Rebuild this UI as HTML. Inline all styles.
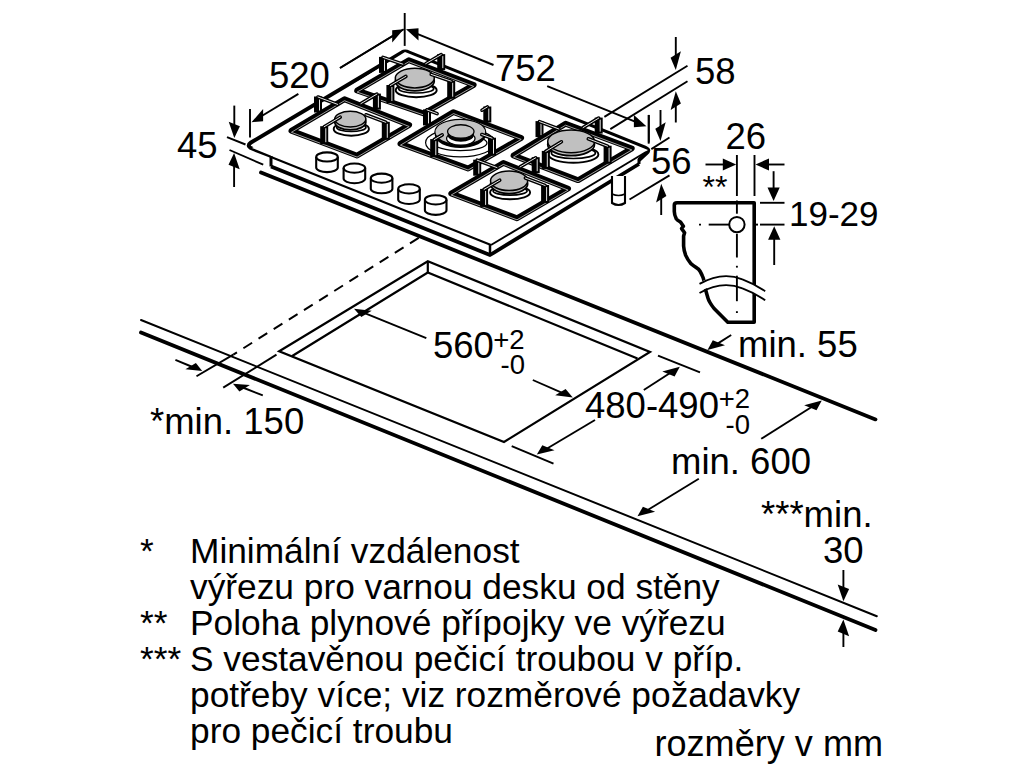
<!DOCTYPE html>
<html><head><meta charset="utf-8"><style>
html,body{margin:0;padding:0;background:#fff;width:1024px;height:768px;overflow:hidden}
svg{display:block}
text{font-family:"Liberation Sans",sans-serif;fill:#000}
</style></head><body>
<svg width="1024" height="768" viewBox="0 0 1024 768">
<g stroke="#000" fill="none">
<line x1="141.0" y1="320.0" x2="876.8" y2="616.2" stroke-width="2.0" stroke-linecap="round" />
<line x1="141.0" y1="332.5" x2="875.5" y2="630.0" stroke-width="3.8" stroke-linecap="round" />
<line x1="261.0" y1="172.5" x2="875.5" y2="419.4" stroke-width="3.8" stroke-linecap="round" />
<polygon points="279.2,351.2 427.8,261.2 650.0,352.0 504.0,442.0" fill="none" stroke-width="2.2" stroke-linejoin="miter"/>
<polyline points="291.8,356.3 427.8,272.5 637.5,358.5" fill="none" stroke-width="2.2" />
<line x1="427.8" y1="261.2" x2="427.8" y2="272.5" stroke-width="2.2" stroke-linecap="butt" />
<line x1="418.7" y1="237.8" x2="233.3" y2="354.6" stroke-width="2.0" stroke-linecap="butt" stroke-dasharray="10.3 7.6"/>
<line x1="233.3" y1="354.6" x2="196.5" y2="376.2" stroke-width="1.9" stroke-linecap="butt" />
<line x1="276.5" y1="354.6" x2="223.2" y2="387.6" stroke-width="1.9" stroke-linecap="butt" />
<line x1="175.4" y1="359.8" x2="192.5" y2="367.0" stroke-width="1.9" stroke-linecap="butt" />
<polygon points="202.2,371.0 195.9,363.0 185.4,369.3" fill="#000" stroke="none"/>
<line x1="262.8" y1="395.4" x2="242.8" y2="387.5" stroke-width="1.9" stroke-linecap="butt" />
<polygon points="233.0,383.7 249.9,385.1 239.4,391.4" fill="#000" stroke="none"/>
<path d="M271,156 L252,148.5 Q246,146 251,142.5 L402,52.5 Q405,50.5 409,52.5 L645,147.5 Q651,150 646,153.5 L639,160" fill="#fff" stroke-width="4.0" stroke-linejoin="round"/>
<polygon points="252.0,148.0 405.0,52.0 648.0,150.0 491.0,245.0" fill="#fff" stroke-width="0" stroke="none"/>
<line x1="271.0" y1="157.0" x2="491.0" y2="245.0" stroke-width="1.9" stroke-linecap="butt" />
<line x1="491.0" y1="245.0" x2="646.0" y2="152.0" stroke-width="1.9" stroke-linecap="butt" />
<line x1="271.0" y1="156.0" x2="271.0" y2="166.5" stroke-width="3" stroke-linecap="butt" />
<line x1="490.0" y1="245.0" x2="490.0" y2="255.0" stroke-width="2.5" stroke-linecap="butt" />
<line x1="639.0" y1="159.0" x2="639.0" y2="164.0" stroke-width="3" stroke-linecap="butt" />
<polyline points="271,166.5 490,255 639,164" fill="none" stroke-width="3.8" stroke-linejoin="round"/>
<polygon points="357.1,90.6 408.8,60.2 473.7,84.9 423.7,113.4" fill="none" stroke-width="5.8" stroke-linejoin="round"/>
<polygon points="357.1,92.1 408.8,61.7 473.7,86.4 423.7,114.9" fill="none" stroke-width="0.9" stroke="#b0b0b0" stroke-linejoin="round"/>
<ellipse cx="416.2" cy="90.2" rx="20.5" ry="7" fill="#fff" stroke-width="1.9"/>
<ellipse cx="416.2" cy="88.7" rx="17.5" ry="4.3" fill="#fff" stroke-width="1.7"/>
<ellipse cx="414.8" cy="81.1" rx="19.5" ry="9.8" fill="#c0c0c0" stroke-width="1.7"/>
<ellipse cx="414.8" cy="78.1" rx="19.5" ry="9.8" fill="#c0c0c0" stroke-width="1.5"/>
<rect x="379.0" y="56.9" width="8" height="16" fill="#000" stroke="none"/>
<line x1="384.5" y1="58.9" x2="384.5" y2="70.9" stroke-width="0.9" stroke-linecap="butt" stroke="#fff"/>
<line x1="383.0" y1="57.4" x2="402.9" y2="64.2" stroke-width="3.6" stroke-linecap="round" />
<line x1="383.0" y1="57.4" x2="402.9" y2="64.2" stroke-width="0.9" stroke-linecap="round" stroke="#fff"/>
<rect x="437.2" y="54.1" width="8" height="16" fill="#000" stroke="none"/>
<line x1="442.8" y1="56.1" x2="442.8" y2="68.1" stroke-width="0.9" stroke-linecap="butt" stroke="#fff"/>
<line x1="441.2" y1="54.6" x2="425.7" y2="63.7" stroke-width="3.6" stroke-linecap="round" />
<line x1="441.2" y1="54.6" x2="425.7" y2="63.7" stroke-width="0.9" stroke-linecap="round" stroke="#fff"/>
<rect x="386.4" y="85.0" width="8" height="18" fill="#000" stroke="none"/>
<line x1="391.9" y1="87.0" x2="391.9" y2="101.0" stroke-width="0.9" stroke-linecap="butt" stroke="#fff"/>
<line x1="390.4" y1="85.5" x2="405.9" y2="76.4" stroke-width="3.6" stroke-linecap="round" />
<line x1="390.4" y1="85.5" x2="405.9" y2="76.4" stroke-width="0.9" stroke-linecap="round" stroke="#fff"/>
<rect x="447.2" y="80.7" width="8" height="18" fill="#000" stroke="none"/>
<line x1="452.7" y1="82.7" x2="452.7" y2="96.7" stroke-width="0.9" stroke-linecap="butt" stroke="#fff"/>
<line x1="451.2" y1="81.2" x2="431.2" y2="74.4" stroke-width="3.6" stroke-linecap="round" />
<line x1="451.2" y1="81.2" x2="431.2" y2="74.4" stroke-width="0.9" stroke-linecap="round" stroke="#fff"/>
<polygon points="291.4,130.8 344.5,99.2 409.2,125.0 357.1,155.6" fill="none" stroke-width="5.8" stroke-linejoin="round"/>
<polygon points="291.4,132.3 344.5,100.7 409.2,126.5 357.1,157.1" fill="none" stroke-width="0.9" stroke="#b0b0b0" stroke-linejoin="round"/>
<ellipse cx="351.3" cy="128.9" rx="17.6" ry="6.8" fill="#fff" stroke-width="1.9"/>
<ellipse cx="351.3" cy="127.4" rx="14.600000000000001" ry="4.1" fill="#fff" stroke-width="1.7"/>
<ellipse cx="350.3" cy="122.1" rx="15.6" ry="7.8" fill="#c0c0c0" stroke-width="1.7"/>
<ellipse cx="350.3" cy="119.1" rx="15.6" ry="7.8" fill="#c0c0c0" stroke-width="1.5"/>
<rect x="314.0" y="96.5" width="8" height="16" fill="#000" stroke="none"/>
<line x1="319.5" y1="98.5" x2="319.5" y2="110.5" stroke-width="0.9" stroke-linecap="butt" stroke="#fff"/>
<line x1="318.0" y1="97.0" x2="337.7" y2="104.4" stroke-width="3.6" stroke-linecap="round" />
<line x1="318.0" y1="97.0" x2="337.7" y2="104.4" stroke-width="0.9" stroke-linecap="round" stroke="#fff"/>
<rect x="372.9" y="93.6" width="8" height="16" fill="#000" stroke="none"/>
<line x1="378.4" y1="95.6" x2="378.4" y2="107.6" stroke-width="0.9" stroke-linecap="butt" stroke="#fff"/>
<line x1="376.9" y1="94.1" x2="360.9" y2="103.6" stroke-width="3.6" stroke-linecap="round" />
<line x1="376.9" y1="94.1" x2="360.9" y2="103.6" stroke-width="0.9" stroke-linecap="round" stroke="#fff"/>
<rect x="320.2" y="126.2" width="8" height="18" fill="#000" stroke="none"/>
<line x1="325.8" y1="128.2" x2="325.8" y2="142.2" stroke-width="0.9" stroke-linecap="butt" stroke="#fff"/>
<line x1="324.2" y1="126.7" x2="340.2" y2="117.2" stroke-width="3.6" stroke-linecap="round" />
<line x1="324.2" y1="126.7" x2="340.2" y2="117.2" stroke-width="0.9" stroke-linecap="round" stroke="#fff"/>
<rect x="381.8" y="121.8" width="8" height="18" fill="#000" stroke="none"/>
<line x1="387.3" y1="123.8" x2="387.3" y2="137.8" stroke-width="0.9" stroke-linecap="butt" stroke="#fff"/>
<line x1="385.8" y1="122.3" x2="366.0" y2="114.8" stroke-width="3.6" stroke-linecap="round" />
<line x1="385.8" y1="122.3" x2="366.0" y2="114.8" stroke-width="0.9" stroke-linecap="round" stroke="#fff"/>
<polygon points="400.4,143.7 453.5,112.1 521.2,137.9 468.1,168.5" fill="none" stroke-width="5.8" stroke-linejoin="round"/>
<polygon points="400.4,145.2 453.5,113.6 521.2,139.4 468.1,170.0" fill="none" stroke-width="0.9" stroke="#b0b0b0" stroke-linejoin="round"/>
<ellipse cx="460.3" cy="142.7" rx="34.7" ry="14.2" fill="#fff" stroke-width="1.2"/>
<ellipse cx="460.3" cy="143.0" rx="26.700000000000003" ry="7.6" fill="#fff" stroke-width="1.3"/>
<ellipse cx="460.3" cy="135.2" rx="25.4" ry="12.7" fill="#000" stroke="none"/>
<ellipse cx="460.3" cy="132" rx="25.4" ry="12.7" fill="#c4c4c4" stroke-width="1.2"/>
<ellipse cx="460.8" cy="138.5" rx="14.208" ry="6.731" fill="#fff" stroke-width="1.3"/>
<ellipse cx="460.8" cy="135" rx="13.208" ry="6.731" fill="#000" stroke="none"/>
<ellipse cx="460.8" cy="131.5" rx="13.208" ry="6.731" fill="#c4c4c4" stroke-width="1.3"/>
<rect x="423.0" y="109.4" width="8" height="16" fill="#000" stroke="none"/>
<line x1="428.5" y1="111.4" x2="428.5" y2="123.4" stroke-width="0.9" stroke-linecap="butt" stroke="#fff"/>
<line x1="427.0" y1="109.9" x2="437.1" y2="113.6" stroke-width="3.6" stroke-linecap="round" />
<line x1="427.0" y1="109.9" x2="437.1" y2="113.6" stroke-width="0.9" stroke-linecap="round" stroke="#fff"/>
<rect x="483.3" y="106.5" width="8" height="16" fill="#000" stroke="none"/>
<line x1="488.8" y1="108.5" x2="488.8" y2="120.5" stroke-width="0.9" stroke-linecap="butt" stroke="#fff"/>
<line x1="487.3" y1="107.0" x2="482.0" y2="110.2" stroke-width="3.6" stroke-linecap="round" />
<line x1="487.3" y1="107.0" x2="482.0" y2="110.2" stroke-width="0.9" stroke-linecap="round" stroke="#fff"/>
<rect x="430.2" y="139.1" width="8" height="18" fill="#000" stroke="none"/>
<line x1="435.8" y1="141.1" x2="435.8" y2="155.1" stroke-width="0.9" stroke-linecap="butt" stroke="#fff"/>
<line x1="434.2" y1="139.6" x2="442.2" y2="134.9" stroke-width="3.6" stroke-linecap="round" />
<line x1="434.2" y1="139.6" x2="442.2" y2="134.9" stroke-width="0.9" stroke-linecap="round" stroke="#fff"/>
<rect x="488.0" y="137.7" width="8" height="18" fill="#000" stroke="none"/>
<line x1="493.5" y1="139.7" x2="493.5" y2="153.7" stroke-width="0.9" stroke-linecap="butt" stroke="#fff"/>
<line x1="492.0" y1="138.2" x2="481.8" y2="134.5" stroke-width="3.6" stroke-linecap="round" />
<line x1="492.0" y1="138.2" x2="481.8" y2="134.5" stroke-width="0.9" stroke-linecap="round" stroke="#fff"/>
<polygon points="513.5,155.5 565.6,123.7 631.8,148.4 578.1,180.2" fill="none" stroke-width="5.8" stroke-linejoin="round"/>
<polygon points="513.5,157.0 565.6,125.2 631.8,149.9 578.1,181.7" fill="none" stroke-width="0.9" stroke="#b0b0b0" stroke-linejoin="round"/>
<ellipse cx="573.4" cy="154.5" rx="25" ry="8.2" fill="#fff" stroke-width="1.9"/>
<ellipse cx="573.4" cy="153.0" rx="22" ry="5.499999999999999" fill="#fff" stroke-width="1.7"/>
<ellipse cx="571.1" cy="144.4" rx="23.4" ry="11.3" fill="#c0c0c0" stroke-width="1.7"/>
<ellipse cx="571.1" cy="141.4" rx="23.4" ry="11.3" fill="#c0c0c0" stroke-width="1.5"/>
<rect x="535.5" y="121.1" width="8" height="16" fill="#000" stroke="none"/>
<line x1="541.0" y1="123.1" x2="541.0" y2="135.1" stroke-width="0.9" stroke-linecap="butt" stroke="#fff"/>
<line x1="539.5" y1="121.6" x2="558.9" y2="129.0" stroke-width="3.6" stroke-linecap="round" />
<line x1="539.5" y1="121.6" x2="558.9" y2="129.0" stroke-width="0.9" stroke-linecap="round" stroke="#fff"/>
<rect x="594.7" y="117.6" width="8" height="16" fill="#000" stroke="none"/>
<line x1="600.2" y1="119.6" x2="600.2" y2="131.6" stroke-width="0.9" stroke-linecap="butt" stroke="#fff"/>
<line x1="598.7" y1="118.1" x2="583.1" y2="127.6" stroke-width="3.6" stroke-linecap="round" />
<line x1="598.7" y1="118.1" x2="583.1" y2="127.6" stroke-width="0.9" stroke-linecap="round" stroke="#fff"/>
<rect x="541.8" y="150.9" width="8" height="18" fill="#000" stroke="none"/>
<line x1="547.3" y1="152.9" x2="547.3" y2="166.9" stroke-width="0.9" stroke-linecap="butt" stroke="#fff"/>
<line x1="545.8" y1="151.4" x2="561.4" y2="141.8" stroke-width="3.6" stroke-linecap="round" />
<line x1="545.8" y1="151.4" x2="561.4" y2="141.8" stroke-width="0.9" stroke-linecap="round" stroke="#fff"/>
<rect x="603.6" y="145.7" width="8" height="18" fill="#000" stroke="none"/>
<line x1="609.1" y1="147.7" x2="609.1" y2="161.7" stroke-width="0.9" stroke-linecap="butt" stroke="#fff"/>
<line x1="607.6" y1="146.2" x2="588.3" y2="138.8" stroke-width="3.6" stroke-linecap="round" />
<line x1="607.6" y1="146.2" x2="588.3" y2="138.8" stroke-width="0.9" stroke-linecap="round" stroke="#fff"/>
<polygon points="451.2,193.5 503.3,162.9 568.1,188.6 517.0,218.3" fill="none" stroke-width="5.8" stroke-linejoin="round"/>
<polygon points="451.2,195.0 503.3,164.4 568.1,190.1 517.0,219.8" fill="none" stroke-width="0.9" stroke="#b0b0b0" stroke-linejoin="round"/>
<ellipse cx="510.1" cy="192.5" rx="20" ry="6.8" fill="#fff" stroke-width="1.9"/>
<ellipse cx="510.1" cy="191.0" rx="17" ry="4.1" fill="#fff" stroke-width="1.7"/>
<ellipse cx="509.1" cy="183.8" rx="18.6" ry="9.8" fill="#c0c0c0" stroke-width="1.7"/>
<ellipse cx="509.1" cy="180.8" rx="18.6" ry="9.8" fill="#c0c0c0" stroke-width="1.5"/>
<rect x="473.2" y="159.7" width="8" height="16" fill="#000" stroke="none"/>
<line x1="478.8" y1="161.7" x2="478.8" y2="173.7" stroke-width="0.9" stroke-linecap="butt" stroke="#fff"/>
<line x1="477.2" y1="160.2" x2="497.0" y2="167.6" stroke-width="3.6" stroke-linecap="round" />
<line x1="477.2" y1="160.2" x2="497.0" y2="167.6" stroke-width="0.9" stroke-linecap="round" stroke="#fff"/>
<rect x="531.7" y="157.2" width="8" height="16" fill="#000" stroke="none"/>
<line x1="537.2" y1="159.2" x2="537.2" y2="171.2" stroke-width="0.9" stroke-linecap="butt" stroke="#fff"/>
<line x1="535.7" y1="157.8" x2="520.1" y2="166.9" stroke-width="3.6" stroke-linecap="round" />
<line x1="535.7" y1="157.8" x2="520.1" y2="166.9" stroke-width="0.9" stroke-linecap="round" stroke="#fff"/>
<rect x="480.1" y="188.9" width="8" height="18" fill="#000" stroke="none"/>
<line x1="485.6" y1="190.9" x2="485.6" y2="204.9" stroke-width="0.9" stroke-linecap="butt" stroke="#fff"/>
<line x1="484.1" y1="189.4" x2="499.7" y2="180.2" stroke-width="3.6" stroke-linecap="round" />
<line x1="484.1" y1="189.4" x2="499.7" y2="180.2" stroke-width="0.9" stroke-linecap="round" stroke="#fff"/>
<rect x="541.1" y="185.0" width="8" height="18" fill="#000" stroke="none"/>
<line x1="546.6" y1="187.0" x2="546.6" y2="201.0" stroke-width="0.9" stroke-linecap="butt" stroke="#fff"/>
<line x1="545.1" y1="185.5" x2="525.4" y2="178.0" stroke-width="3.6" stroke-linecap="round" />
<line x1="545.1" y1="185.5" x2="525.4" y2="178.0" stroke-width="0.9" stroke-linecap="round" stroke="#fff"/>
<path d="M316.2,157 L316.2,167.5 A10.8,4.6 0 0 0 337.8,167.5 L337.8,157 A10.8,4.6 0 0 0 316.2,157 Z" fill="#fff" stroke-width="2.1"/>
<path d="M316.2,157 A10.8,4.6 0 0 0 337.8,157" fill="none" stroke-width="2.0"/>
<path d="M343.59999999999997,168.1 L343.59999999999997,178.6 A10.8,4.6 0 0 0 365.2,178.6 L365.2,168.1 A10.8,4.6 0 0 0 343.59999999999997,168.1 Z" fill="#fff" stroke-width="2.1"/>
<path d="M343.59999999999997,168.1 A10.8,4.6 0 0 0 365.2,168.1" fill="none" stroke-width="2.0"/>
<path d="M370.8,178.2 L370.8,188.7 A10.8,4.6 0 0 0 392.40000000000003,188.7 L392.40000000000003,178.2 A10.8,4.6 0 0 0 370.8,178.2 Z" fill="#fff" stroke-width="2.1"/>
<path d="M370.8,178.2 A10.8,4.6 0 0 0 392.40000000000003,178.2" fill="none" stroke-width="2.0"/>
<path d="M398.2,188.9 L398.2,199.4 A10.8,4.6 0 0 0 419.8,199.4 L419.8,188.9 A10.8,4.6 0 0 0 398.2,188.9 Z" fill="#fff" stroke-width="2.1"/>
<path d="M398.2,188.9 A10.8,4.6 0 0 0 419.8,188.9" fill="none" stroke-width="2.0"/>
<path d="M424.9,199.8 L424.9,210.3 A10.8,4.6 0 0 0 446.5,210.3 L446.5,199.8 A10.8,4.6 0 0 0 424.9,199.8 Z" fill="#fff" stroke-width="2.1"/>
<path d="M424.9,199.8 A10.8,4.6 0 0 0 446.5,199.8" fill="none" stroke-width="2.0"/>
<path d="M612,176 L612,203 Q618.5,207 625,203 L625,176" fill="#fff" stroke-width="2.1"/>
<path d="M612,194 Q618.5,197 625,194" fill="none" stroke-width="1.6"/>
<line x1="250.0" y1="109.0" x2="250.0" y2="137.4" stroke-width="1.9" stroke-linecap="butt" />
<line x1="298.4" y1="93.9" x2="261.3" y2="116.3" stroke-width="1.9" stroke-linecap="butt" />
<polygon points="251.5,122.2 263.1,121.3 263.1,109.1" fill="#000" stroke="none"/>
<line x1="340.0" y1="68.0" x2="403.7" y2="29.3" stroke-width="1.9" stroke-linecap="butt" />
<line x1="340.0" y1="68.0" x2="393.9" y2="35.3" stroke-width="1.9" stroke-linecap="butt" />
<polygon points="403.7,29.3 392.2,42.4 392.2,30.2" fill="#000" stroke="none"/>
<line x1="404.7" y1="13.0" x2="404.7" y2="45.9" stroke-width="1.9" stroke-linecap="butt" />
<line x1="493.5" y1="65.0" x2="416.6" y2="33.6" stroke-width="1.9" stroke-linecap="butt" />
<polygon points="406.0,29.3 418.5,40.5 418.5,28.3" fill="#000" stroke="none"/>
<line x1="547.2" y1="86.2" x2="635.7" y2="121.9" stroke-width="1.9" stroke-linecap="butt" />
<polygon points="646.4,126.2 633.9,127.3 633.9,115.1" fill="#000" stroke="none"/>
<line x1="648.7" y1="114.9" x2="648.7" y2="143.7" stroke-width="1.9" stroke-linecap="butt" />
<line x1="234.3" y1="105.6" x2="234.3" y2="126.0" stroke-width="1.9" stroke-linecap="butt" />
<polygon points="234.3,138.0 239.9,126.3 228.7,121.7" fill="#000" stroke="none"/>
<line x1="234.1" y1="187.0" x2="234.1" y2="165.0" stroke-width="1.9" stroke-linecap="butt" />
<polygon points="234.1,153.0 239.7,169.3 228.5,164.7" fill="#000" stroke="none"/>
<line x1="227.0" y1="137.2" x2="245.5" y2="144.5" stroke-width="1.9" stroke-linecap="butt" />
<line x1="229.5" y1="150.0" x2="263.2" y2="164.7" stroke-width="1.9" stroke-linecap="butt" />
<line x1="604.4" y1="116.9" x2="687.5" y2="65.8" stroke-width="1.9" stroke-linecap="butt" />
<line x1="610.3" y1="129.1" x2="687.5" y2="81.2" stroke-width="1.9" stroke-linecap="butt" />
<line x1="675.8" y1="37.0" x2="675.8" y2="56.5" stroke-width="1.9" stroke-linecap="butt" />
<polygon points="675.8,70.0 680.9,51.3 670.6,57.7" fill="#000" stroke="none"/>
<line x1="675.8" y1="122.5" x2="675.8" y2="104.8" stroke-width="1.9" stroke-linecap="butt" />
<polygon points="675.8,91.2 680.9,103.5 670.6,110.0" fill="#000" stroke="none"/>
<line x1="660.5" y1="110.0" x2="660.5" y2="127.5" stroke-width="1.9" stroke-linecap="butt" />
<polygon points="660.5,141.0 665.7,122.3 655.3,128.7" fill="#000" stroke="none"/>
<line x1="651.3" y1="149.1" x2="669.5" y2="137.5" stroke-width="1.9" stroke-linecap="butt" />
<line x1="629.5" y1="199.5" x2="669.5" y2="175.4" stroke-width="1.9" stroke-linecap="butt" />
<line x1="661.2" y1="215.0" x2="661.2" y2="197.2" stroke-width="1.9" stroke-linecap="butt" />
<polygon points="661.2,183.8 666.4,196.0 656.1,202.5" fill="#000" stroke="none"/>
<line x1="648.8" y1="115.0" x2="648.8" y2="142.5" stroke-width="1.9" stroke-linecap="butt" />
<path d="M677,202.8 L754.2,202.8 L754.2,322.2 L727.8,322.2 L714.1,308.5 Q709,302 707.8,297.6 Q705.5,290 705,286.6 Q704,279 702.4,276 Q700,270.5 698.2,268.9 Q693,265.5 690.9,263.7 Q687.5,259.5 685.7,255.4 Q683.8,250 683.6,246 L683.6,236 L684.6,232.8 L681.6,228.6 L683.4,226.2 L680.5,222 Q677,220 676.3,218.9 Q674.3,215 674.3,211.6 L674.3,205 Q674.3,202.8 677,202.8 Z" fill="#fff" stroke-width="3.6" stroke-linejoin="round"/>
<path d="M697,283.9 Q722,270 742.4,279.3 Q755,284 767,292 L767,301.5 Q755,293 742.4,288.4 Q722,279 697,293 Z" fill="#fff" stroke="none"/>
<path d="M699.5,283.9 Q722,271 742.4,279.3 Q755,284 765.2,291.2" fill="none" stroke-width="1.8"/>
<path d="M699.5,293 Q722,280 742.4,288.4 Q755,293 765.2,300.3" fill="none" stroke-width="1.8"/>
<circle cx="736.9" cy="224.6" r="7.7" fill="none" stroke-width="2"/>
<line x1="699.0" y1="224.6" x2="701.0" y2="224.6" stroke-width="1.9" stroke-linecap="butt" />
<line x1="708.7" y1="224.6" x2="729.0" y2="224.6" stroke-width="1.9" stroke-linecap="butt" />
<line x1="755.0" y1="224.6" x2="758.0" y2="224.6" stroke-width="1.9" stroke-linecap="butt" />
<line x1="736.9" y1="155.0" x2="736.9" y2="196.0" stroke-width="1.9" stroke-linecap="butt" />
<line x1="736.9" y1="200.5" x2="736.9" y2="213.7" stroke-width="1.9" stroke-linecap="butt" />
<line x1="736.9" y1="233.8" x2="736.9" y2="257.5" stroke-width="1.9" stroke-linecap="butt" />
<line x1="736.9" y1="265.8" x2="736.9" y2="267.6" stroke-width="1.9" stroke-linecap="butt" />
<line x1="736.9" y1="275.7" x2="736.9" y2="301.2" stroke-width="1.9" stroke-linecap="butt" />
<line x1="736.9" y1="311.2" x2="736.9" y2="313.0" stroke-width="1.9" stroke-linecap="butt" />
<line x1="754.5" y1="155.0" x2="754.5" y2="196.0" stroke-width="1.9" stroke-linecap="butt" />
<line x1="705.5" y1="164.5" x2="724.8" y2="164.5" stroke-width="1.9" stroke-linecap="butt" />
<polygon points="736.2,164.5 722.8,170.6 722.8,158.4" fill="#000" stroke="none"/>
<line x1="784.5" y1="164.5" x2="767.0" y2="164.5" stroke-width="1.9" stroke-linecap="butt" />
<polygon points="755.5,164.5 769.0,158.4 769.0,170.6" fill="#000" stroke="none"/>
<line x1="760.0" y1="202.8" x2="784.5" y2="202.8" stroke-width="1.9" stroke-linecap="butt" />
<line x1="760.0" y1="224.6" x2="784.5" y2="224.6" stroke-width="1.9" stroke-linecap="butt" />
<line x1="773.6" y1="171.2" x2="773.6" y2="189.5" stroke-width="1.9" stroke-linecap="butt" />
<polygon points="773.6,201.0 767.5,187.5 779.7,187.5" fill="#000" stroke="none"/>
<line x1="774.2" y1="265.0" x2="774.2" y2="237.8" stroke-width="1.9" stroke-linecap="butt" />
<polygon points="774.2,226.2 780.4,239.8 768.1,239.8" fill="#000" stroke="none"/>
<line x1="731.2" y1="335.0" x2="717.2" y2="343.9" stroke-width="1.9" stroke-linecap="butt" />
<polygon points="707.5,350.0 725.0,345.2 712.8,340.3" fill="#000" stroke="none"/>
<line x1="426.3" y1="338.1" x2="364.7" y2="313.1" stroke-width="1.9" stroke-linecap="butt" />
<polygon points="354.0,308.8 371.7,310.7 361.3,317.0" fill="#000" stroke="none"/>
<line x1="532.8" y1="380.0" x2="562.2" y2="392.9" stroke-width="1.9" stroke-linecap="butt" />
<polygon points="572.8,397.5 565.6,388.9 555.2,395.3" fill="#000" stroke="none"/>
<line x1="643.8" y1="390.0" x2="670.1" y2="373.0" stroke-width="1.9" stroke-linecap="butt" />
<polygon points="679.8,366.8 674.6,376.6 662.3,371.6" fill="#000" stroke="none"/>
<line x1="658.0" y1="355.6" x2="700.0" y2="372.4" stroke-width="1.9" stroke-linecap="butt" />
<line x1="595.0" y1="420.0" x2="546.7" y2="448.7" stroke-width="1.9" stroke-linecap="butt" />
<polygon points="536.8,454.6 554.5,450.2 542.3,445.2" fill="#000" stroke="none"/>
<line x1="511.7" y1="446.2" x2="553.5" y2="463.6" stroke-width="1.9" stroke-linecap="butt" />
<line x1="698.8" y1="478.8" x2="647.3" y2="510.2" stroke-width="1.9" stroke-linecap="butt" />
<polygon points="637.5,516.2 655.1,511.7 642.9,506.7" fill="#000" stroke="none"/>
<line x1="761.2" y1="438.8" x2="812.0" y2="406.7" stroke-width="1.9" stroke-linecap="butt" />
<polygon points="821.8,400.6 816.5,410.3 804.2,405.3" fill="#000" stroke="none"/>
<line x1="843.4" y1="570.0" x2="843.4" y2="588.8" stroke-width="1.9" stroke-linecap="butt" />
<polygon points="843.4,601.2 849.1,589.0 837.7,584.5" fill="#000" stroke="none"/>
<line x1="843.4" y1="647.0" x2="843.4" y2="631.9" stroke-width="1.9" stroke-linecap="butt" />
<polygon points="843.4,619.4 849.1,636.2 837.7,631.6" fill="#000" stroke="none"/>
</g>
<g>
<text x="269" y="88" font-size="36.5" text-anchor="start">520</text>
<text x="495" y="81" font-size="36.5" text-anchor="start">752</text>
<text x="177" y="158" font-size="36.5" text-anchor="start">45</text>
<text x="695" y="84" font-size="36.5" text-anchor="start">58</text>
<text x="651" y="174" font-size="36.5" text-anchor="start">56</text>
<text x="725.5" y="149" font-size="36.5" text-anchor="start">26</text>
<text x="702.5" y="197.5" font-size="32" text-anchor="start">**</text>
<text x="789" y="225.5" font-size="35" text-anchor="start">19-29</text>
<text x="738" y="356.5" font-size="36.5" text-anchor="start">min. 55</text>
<text x="433" y="358" font-size="36.5" text-anchor="start">560</text>
<text x="524.5" y="349" font-size="27.5" text-anchor="end">+2</text>
<text x="525" y="374" font-size="27.5" text-anchor="end">-0</text>
<text x="150" y="434" font-size="36.5" text-anchor="start">*min. 150</text>
<text x="585" y="418" font-size="36.5" text-anchor="start">480-490</text>
<text x="750" y="408" font-size="27.5" text-anchor="end">+2</text>
<text x="750" y="434" font-size="27.5" text-anchor="end">-0</text>
<text x="671" y="474" font-size="36.5" text-anchor="start">min. 600</text>
<text x="761" y="526.5" font-size="36.5" text-anchor="start">***min.</text>
<text x="823" y="563" font-size="36.5" text-anchor="start">30</text>
<text x="654.5" y="755.6" font-size="36.1" text-anchor="start">rozměry v mm</text>
<text x="140" y="563" font-size="35.3" text-anchor="start">*</text>
<text x="190" y="563" font-size="35.3" text-anchor="start">Minimální vzdálenost</text>
<text x="190" y="599" font-size="35.3" text-anchor="start">výřezu pro varnou desku od stěny</text>
<text x="140" y="635" font-size="35.3" text-anchor="start">**</text>
<text x="190" y="635" font-size="35.3" text-anchor="start">Poloha plynové přípojky ve výřezu</text>
<text x="140" y="671" font-size="35.3" text-anchor="start">***</text>
<text x="190" y="671" font-size="35.3" text-anchor="start">S vestavěnou pečicí troubou v příp.</text>
<text x="190" y="707" font-size="35.3" text-anchor="start">potřeby více; viz rozměrové požadavky</text>
<text x="190" y="743" font-size="35.3" text-anchor="start">pro pečicí troubu</text>
</g>
</svg>
</body></html>
